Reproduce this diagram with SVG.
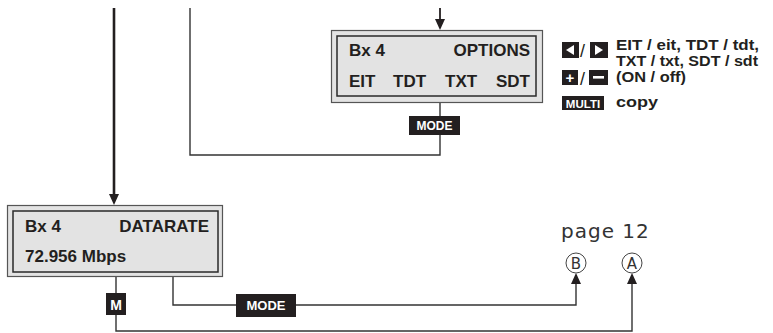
<svg xmlns="http://www.w3.org/2000/svg" width="773" height="333" viewBox="0 0 773 333">
<style>
.outer{fill:#e3e3e3;stroke:#555;stroke-width:1.2}
.inner{fill:#e3e3e3;stroke:#2a2a2a;stroke-width:1.5}
.disp{font-family:"Liberation Sans",Arial,sans-serif;font-weight:bold;font-size:17px;fill:#231f20}
.key{fill:#231f20}
.keyt{font-family:"Liberation Sans",Arial,sans-serif;font-weight:bold;fill:#fff;text-anchor:middle}
.leg{font-family:"Liberation Sans",Arial,sans-serif;font-weight:bold;font-size:14.5px;fill:#231f20}
.sl{font-family:"Liberation Sans",Arial,sans-serif;font-size:18px;fill:#231f20}
.ln{fill:none;stroke:#333;stroke-width:1.4}
.circ{fill:#fff;stroke:#444;stroke-width:1}
.pg{font-family:"DejaVu Sans",sans-serif;fill:#333}
</style>
<g id="connectors">
<line x1="114" y1="8" x2="114" y2="195" stroke="#231f20" stroke-width="2.6"/>
<path d="M109,194 L119,194 L114,205 Z" fill="#231f20"/>
<line x1="440" y1="8" x2="440" y2="20" stroke="#231f20" stroke-width="1.8"/>
<path d="M435,19 L445,19 L440,30 Z" fill="#231f20"/>
<path class="ln" d="M440,102 V116 M440,135 V155 H190 V8"/>
<path class="ln" d="M116,277 V293 M116,315 V331 H632 V283"/>
<path d="M627,284 L637,284 L632,273 Z" fill="#231f20"/>
<path class="ln" d="M173,277 V305 H576 V283"/>
<path d="M571,284 L581,284 L576,273 Z" fill="#231f20"/>
</g>
<g id="options-display">
<rect class="outer" x="331.5" y="30.5" width="211" height="72"/>
<rect class="inner" x="337" y="36" width="199" height="60"/>
<text class="disp" x="349" y="56">Bx 4</text>
<text class="disp" x="530" y="56" text-anchor="end">OPTIONS</text>
<text class="disp" x="349" y="87">EIT</text>
<text class="disp" x="393" y="87">TDT</text>
<text class="disp" x="445" y="87">TXT</text>
<text class="disp" x="530" y="87" text-anchor="end">SDT</text>
</g>
<g id="mode-top">
<rect class="key" x="409" y="116" width="51" height="19"/>
<text class="keyt" x="434.5" y="130" font-size="12">MODE</text>
</g>
<g id="legend">
<rect class="key" x="562" y="42" width="17" height="16"/>
<path d="M566,50 L574,45 L574,55 Z" fill="#fff"/>
<text class="sl" x="580" y="57">/</text>
<rect class="key" x="590" y="42" width="18" height="16"/>
<path d="M603,50 L595,45 L595,55 Z" fill="#fff"/>
<rect class="key" x="562" y="70" width="16" height="15"/>
<text class="keyt" x="570" y="83" font-size="15">+</text>
<text class="sl" x="580" y="85">/</text>
<rect class="key" x="589" y="70" width="19" height="15"/>
<rect x="593" y="76" width="11" height="2.6" fill="#fff"/>
<rect class="key" x="562" y="96" width="42" height="14"/>
<text class="keyt" x="583" y="107.5" font-size="11.5">MULTI</text>
<text class="leg" x="616" y="50" textLength="143" lengthAdjust="spacingAndGlyphs">EIT / eit, TDT / tdt,</text>
<text class="leg" x="616" y="66" textLength="142" lengthAdjust="spacingAndGlyphs">TXT / txt, SDT / sdt</text>
<text class="leg" x="616" y="82" textLength="70" lengthAdjust="spacingAndGlyphs">(ON / off)</text>
<text class="leg" x="616" y="107" textLength="42" lengthAdjust="spacingAndGlyphs">copy</text>
</g>
<g id="datarate-display">
<rect class="outer" x="7.5" y="205.5" width="215" height="71"/>
<rect class="inner" x="13" y="211" width="205" height="61"/>
<text class="disp" x="25" y="232">Bx 4</text>
<text class="disp" x="209" y="232" text-anchor="end">DATARATE</text>
<text class="disp" x="25" y="262">72.956 Mbps</text>
</g>
<g id="m-key">
<rect class="key" x="106" y="293" width="20" height="22"/>
<text class="keyt" x="116" y="309.5" font-size="14">M</text>
</g>
<g id="mode-bottom">
<rect class="key" x="236" y="294" width="60" height="23"/>
<text class="keyt" x="266" y="310" font-size="13">MODE</text>
</g>
<g id="page-ref">
<text class="pg" x="561" y="238" font-size="20" letter-spacing="1">page 12</text>
</g>
<g id="node-B">
<circle class="circ" cx="576" cy="263" r="10"/>
<text class="pg" x="576" y="268.5" font-size="15" text-anchor="middle">B</text>
</g>
<g id="node-A">
<circle class="circ" cx="632" cy="263" r="10"/>
<text class="pg" x="632" y="268.5" font-size="15" text-anchor="middle">A</text>
</g>
</svg>
